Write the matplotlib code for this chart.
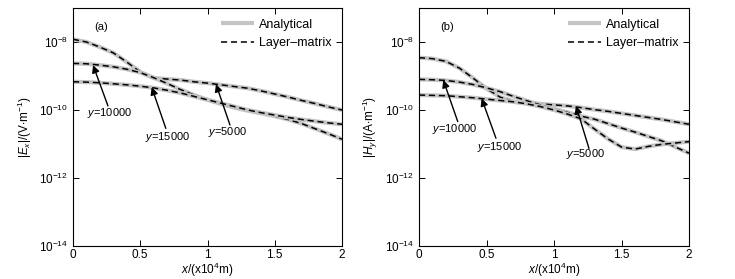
import numpy as np
import matplotlib
matplotlib.use('Agg')
from matplotlib import pyplot as plt

plt.rcParams['font.family'] = 'Liberation Sans'
plt.rcParams['mathtext.fontset'] = 'custom'
plt.rcParams['mathtext.rm'] = 'Liberation Sans'
plt.rcParams['mathtext.it'] = 'Liberation Sans:italic'

# x positions, in 10^4 m
x = np.arange(0, 2.01, 0.1)

# panel (a): log10 |Ex|
ex_5000 = [-7.92, -8.00, -8.15, -8.32, -8.59, -8.88, -9.06, -9.09, -9.12, -9.17, -9.21,
           -9.26, -9.31, -9.36, -9.44, -9.53, -9.62, -9.72, -9.81, -9.91, -10.00]
ex_10000 = [-8.63, -8.64, -8.68, -8.73, -8.80, -8.90, -9.05, -9.22, -9.40, -9.56, -9.70,
            -9.82, -9.93, -10.02, -10.10, -10.18, -10.28, -10.40, -10.55, -10.70, -10.86]
ex_15000 = [-9.17, -9.18, -9.20, -9.23, -9.26, -9.30, -9.35, -9.42, -9.50, -9.60, -9.70,
            -9.80, -9.90, -10.00, -10.08, -10.15, -10.22, -10.28, -10.33, -10.38, -10.42]

# panel (b): log10 |Hy|
hy_5000 = [-8.46, -8.49, -8.57, -8.77, -9.06, -9.37, -9.62, -9.75, -9.79, -9.82, -9.85,
           -9.88, -9.93, -9.99, -10.04, -10.10, -10.16, -10.22, -10.28, -10.35, -10.42]
hy_10000 = [-9.10, -9.11, -9.13, -9.18, -9.25, -9.35, -9.46, -9.60, -9.73, -9.85, -9.97,
            -10.07, -10.18, -10.27, -10.40, -10.53, -10.65, -10.78, -10.91, -11.09, -11.27]
hy_15000 = [-9.56, -9.57, -9.58, -9.61, -9.64, -9.68, -9.72, -9.76, -9.82, -9.90, -10.00,
            -10.12, -10.26, -10.56, -10.85, -11.09, -11.15, -11.07, -11.01, -10.97, -10.93]

# labels: text (x, log y), arrow start, arrow tip
labels_a = [('10000', (0.275, -10.09), (0.26, -9.88), (0.149, -8.68)),
            ('15000', (0.706, -10.79), (0.69, -10.54), (0.585, -9.33)),
            ('5000', (1.145, -10.65), (1.167, -10.44), (1.063, -9.24))]
labels_b = [('10000', (0.267, -10.57), (0.287, -10.34), (0.18, -9.12)),
            ('15000', (0.60, -11.08), (0.57, -10.83), (0.464, -9.66)),
            ('5000', (1.233, -11.29), (1.259, -11.13), (1.163, -9.88))]

fig = plt.figure(figsize=(7.35, 2.79), dpi=100)
ax_a = fig.add_axes([73/735, 1-246/279, 269/735, 238/279])
ax_b = fig.add_axes([419/735, 1-246/279, 270/735, 238/279])

panels = [(ax_a, [ex_5000, ex_10000, ex_15000], labels_a, '(a)',
           r'$|E_x|$/(V$\cdot$m$^{-1}$)'),
          (ax_b, [hy_5000, hy_10000, hy_15000], labels_b, '(b)',
           r'$|H_y|$/(A$\cdot$m$^{-1}$)')]

for ax, curves, labs, tag, ylab in panels:
    for i, c in enumerate(curves):
        v = 10.0 ** np.array(c)
        ax.plot(x, v, color='#c4c4c4', lw=3, solid_capstyle='butt',
                label='Analytical' if i == 0 else None)
        ax.plot(x, v, color='k', lw=1.1, dashes=(4, 2.5),
                label='Layer\u2013matrix' if i == 0 else None)
    ax.set_yscale('log')
    ax.set_xlim(0, 2)
    ax.set_ylim(1e-14, 1e-7)
    ax.set_xticks([0, 0.5, 1, 1.5, 2])
    ax.set_xticklabels(['0', '0.5', '1', '1.5', '2'])
    ax.set_yticks([1e-14, 1e-12, 1e-10, 1e-8])
    ax.minorticks_off()
    ax.tick_params(direction='in', top=True, right=True, labelsize=8.5, length=4, width=0.7)
    ax.tick_params(axis='x', pad=2.5)
    for s in ax.spines.values():
        s.set_linewidth(0.8)
    ax.set_xlabel(r'$x$/(x10$^4$m)', fontsize=8.5, labelpad=-0.5)
    ax.set_ylabel(ylab, fontsize=8.5, labelpad=4)
    ax.text(0.08, 0.92, tag, transform=ax.transAxes, fontsize=8, va='center')
    ax.legend(loc='upper right', frameon=False, fontsize=9, handlelength=2.6,
              borderaxespad=0.45, labelspacing=0.5, handletextpad=0.4)
    for name, tpos, start, tip in labs:
        ax.text(tpos[0], 10**tpos[1], r'$y$=' + name, fontsize=8, ha='center', va='center')
        ax.annotate('', xy=(tip[0], 10**tip[1]), xytext=(start[0], 10**start[1]),
                    arrowprops=dict(arrowstyle='-|>', color='k', lw=1.0, mutation_scale=11,
                                    shrinkA=0, shrinkB=0))

fig.savefig('out.png', dpi=100)
